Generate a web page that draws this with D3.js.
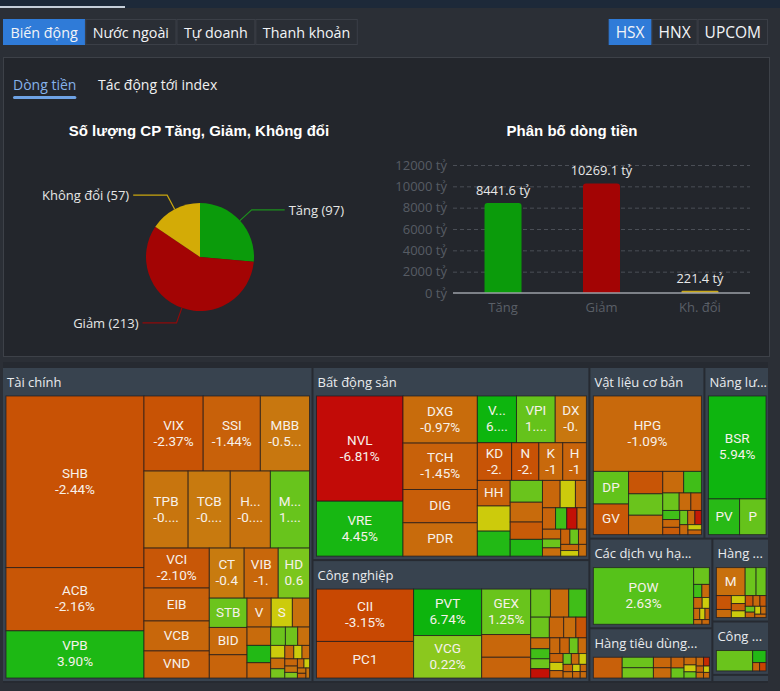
<!DOCTYPE html>
<html><head><meta charset="utf-8">
<script src="https://cdn.jsdelivr.net/npm/d3@7/dist/d3.min.js"></script>
<style>
html,body{margin:0;padding:0;background:#2b2f36;overflow:hidden;}
svg{display:block;}
</style></head><body>
<svg id="c" width="780" height="691"></svg>
<script>
// ---------------- DATA ----------------
const tabs = ["Biến động", "Nước ngoài", "Tự doanh", "Thanh khoản"];
const exchanges = ["HSX", "HNX", "UPCOM"];
const subTabs = ["Dòng tiền", "Tác động tới index"];

const pieTitle = "Số lượng CP Tăng, Giảm, Không đổi";
const pieCategories = ["Tăng", "Giảm", "Không đổi"];
const pieCounts = [97, 213, 57];

const barTitle = "Phân bố dòng tiền";
const barCategories = ["Tăng", "Giảm", "Kh. đổi"];
const barValues = [8441.6, 10269.1, 221.4];
const barTicks = [0, 2000, 4000, 6000, 8000, 10000, 12000];

const sectorNames = ["Tài chính", "Bất động sản", "Công nghiệp", "Vật liệu cơ bản", "Năng lượng",
  "Các dịch vụ hạ tầng", "Hàng tiêu dùng thiết yếu", "Hàng tiêu dùng không thiết yếu", "Công nghệ thông tin", "Viễn thông"];
const sectorValues = [9710, 5308, 3351, 1960, 1100, 1095, 656, 466, 300, 40];

const taiChinhTickers = ["SHB","ACB","VPB","VIX","SSI","MBB","TPB","TCB","HCM","MSB","VCI","EIB","VCB","VND","CTG","VIB","HDB","STB","BID","","VDS","SSB"];
const taiChinhValues = [23598,8694,6486,4425,4275,3675,3388,3234,3080,3003,2600,2145,1950,1760,1740,1700,1560,1102,1026,874,696,609,493,432,408,360,270,225,216,180,150,130,120,110,100,90,80,70,60,50,45,40,35];
const taiChinhChanges = [-2.44,-2.16,3.90,-2.37,-1.44,-0.55,-0.62,-0.45,-0.71,1.32,-2.10,-1.5,-1.2,-1.5,-0.42,-1.18,0.62,1.0,-1.0,-1.3,-1.0,0,-0.8,-1.0,3.5,-1.2,1.0,0.9,-0.8,0,-1.0,0.7,-1.1,0,-0.9,-1.2,-0.7,0.5,-1.0,0,-0.8,-1.3,-0.6];

const batDongSanTickers = ["NVL","VRE","DXG","TCH","DIG","PDR","VHM","VPI","DXS","KDH","NLG","KBC","HDC","HHV"];
const batDongSanValues = [9100,4750,3500,3450,2475,2475,1830,1810,1457,1292,1026,900,890,840,825,820,704,640,560,540,484,418,300,280,240,220,200,180,160,150,140,130,120,110,100,90];
const batDongSanChanges = [-6.81,4.45,-0.97,-1.45,-1.6,-1.0,6.3,1.6,-0.55,-2.3,-2.4,-1.1,-1.3,-1.5,0,3.5,1.2,-1.0,-1.8,3.5,-1.2,0,-0.9,-1.3,3.0,-6.5,-1.0,-1.2,1.0,-0.9,-1.4,1.1,-1.0,-1.2,0,-0.9];

const congNghiepTickers = ["CII","PC1","PVT","VCG","GEX"];
const congNghiepValues = [5141,3589,3196,2924,2254,1127,1029,560,520,500,390,300,255,220,210,195,190,180,160,150,140,130,120,110,100,90,85,80,70,60,55,50,45,40];
const congNghiepChanges = [-3.15,-2.8,6.74,0.22,1.25,-1.2,-1.3,1.2,-1.0,3.0,1.0,-1.2,-0.9,-2.2,-1.0,3.0,1.0,-6.5,-1.1,-1.3,1.0,-1.0,-1.4,0,-1.2,1.0,-1.0,0,-1.3,-0.9,0,-1.1,-1.2,-1.0];

const vatLieuTickers = ["HPG","DPM","GVR"];
const vatLieuValues = [7950,1120,1050,748,714,646,440,374,280,200,180,150,130,120,110,100,90,80,70,60];
const vatLieuChanges = [-1.09,1.8,-2.0,-2.2,1.2,-0.9,-1.0,3.0,1.0,-1.0,-1.5,3.0,-1.2,-1.8,1.0,-1.0,-6.0,-1.1,0,-1.3];

const nangLuongTickers = ["BSR","PVS","PVD"];
const nangLuongValues = [6161,1155,980];
const nangLuongChanges = [5.94,3.4,1.6];

const dichVuTickers = ["POW"];
const dichVuValues = [5800,270,110,100,95,80,70,60,50,40,35];
const dichVuChanges = [2.63,1.2,3.0,-1.0,-1.2,0,-1.0,0,-1.3,-0.9,-1.1];

const tieuDungTickers = [];
const tieuDungValues = [644,352,345,200,195,150,140,100,90,80,70,55,50,45,40,35];
const tieuDungChanges = [-1.5,1.0,0.8,-1.2,-1.0,-1.3,1.2,-1.0,0,1.0,-1.1,-5.0,-1.2,-0.9,0,-1.0];

const hangTickers = ["MWG"];
const hangValues = [870,330,300,225,130,120,110,100,90,80,70,60,55,50,45,40];
const hangChanges = [-0.8,1.0,1.2,-2.2,-1.0,0,-1.5,0,-2.0,-1.0,-1.8,1.0,-1.2,0,-0.9,-1.1];

const congNgheTickers = ["FPT"];
const congNgheValues = [836,182,65,60];
const congNgheChanges = [1.2,3.5,-1.2,-3.5];

const vienThongTickers = ["VGI"];
const vienThongValues = [30,10];
const vienThongChanges = [-0.8,0.5];

// ---------------- SETUP ----------------
const FONT = "'Open Sans', 'Noto Sans', sans-serif";
const CELLFONT = "Roboto, 'Open Sans', sans-serif";
const BOLD = "'Liberation Sans', Arial, sans-serif";
const ctx = document.createElement("canvas").getContext("2d");
function measure(t, size, fam, weight) { ctx.font = (weight || "normal") + " " + size + "px " + (fam || FONT); return ctx.measureText(t).width; }

const svg = d3.select("#c");
svg.append("rect").attr("width", 780).attr("height", 691).attr("fill", "#2b2f36");
svg.append("rect").attr("width", 780).attr("height", 8).attr("fill", "#1d2939");
svg.append("rect").attr("x", 0).attr("y", 6).attr("width", 125).attr("height", 2).attr("fill", "#c6cfda");

function buttonGroup(labels, x0, y0, h, fs, pad) {
  let x = x0;
  labels.forEach((t, i) => {
    const w = measure(t, fs) + pad;
    svg.append("rect").attr("x", x + 0.5).attr("y", y0 + 0.5).attr("width", w - 1).attr("height", h - 1)
      .attr("fill", i === 0 ? "#2f7bd8" : "#2a2e35").attr("stroke", i === 0 ? "#2f7bd8" : "#3b3f47");
    svg.append("text").attr("x", x + w / 2).attr("y", y0 + h / 2).attr("text-anchor", "middle")
      .attr("dominant-baseline", "central").attr("fill", "#f2f4f7").attr("font-family", FONT)
      .attr("font-size", fs).text(t);
    x += w;
  });
}
buttonGroup(tabs, 3, 19, 26, 14.3, 15);
const exW = exchanges.reduce((a, t) => a + measure(t, 15.5) + 14, 0);
buttonGroup(exchanges, 768 - exW, 19, 26, 15.5, 14);

svg.append("rect").attr("x", 3.5).attr("y", 57.5).attr("width", 766).attr("height", 299)
  .attr("fill", "#23262c").attr("stroke", "#3d4148");
svg.append("text").attr("x", 13).attr("y", 84).attr("dominant-baseline", "central")
  .attr("fill", "#86b2ea").attr("font-family", FONT).attr("font-size", 14).text(subTabs[0]);
svg.append("rect").attr("x", 13).attr("y", 96).attr("width", measure(subTabs[0], 14)).attr("height", 3)
  .attr("rx", 1.5).attr("fill", "#6ea2e4");
svg.append("text").attr("x", 98).attr("y", 84).attr("dominant-baseline", "central")
  .attr("fill", "#f0f0f0").attr("font-family", FONT).attr("font-size", 14).text(subTabs[1]);

// ---------------- PIE ----------------
svg.append("text").attr("x", 199).attr("y", 130).attr("text-anchor", "middle").attr("dominant-baseline", "central")
  .attr("fill", "#ffffff").attr("font-family", BOLD).attr("font-weight", "bold").attr("font-size", 15).text(pieTitle);
const pieColors = ["#0b9b0b", "#a30404", "#d3ab06"];
const lineColors = ["#1d8f1d", "#8f0a0a", "#c9a50e"];
const R = 54, cx = 200, cy = 257;
const pieData = d3.pie().sort(null).value(d => d)(pieCounts);
const arc = d3.arc().innerRadius(0).outerRadius(R);
const gPie = svg.append("g").attr("transform", `translate(${cx},${cy})`);
gPie.selectAll("path").data(pieData).join("path").attr("d", arc).attr("fill", (d, i) => pieColors[i]);
const edgeArc = d3.arc().innerRadius(R).outerRadius(R);
const elbowArc = d3.arc().innerRadius(70).outerRadius(70);
pieData.forEach((d, i) => {
  const p1 = edgeArc.centroid(d), p2 = elbowArc.centroid(d);
  const mid = (d.startAngle + d.endAngle) / 2;
  const right = mid < Math.PI;
  const p3 = [p2[0] + (right ? 33 : -34), p2[1]];
  gPie.append("polyline").attr("points", [p1, p2, p3].map(p => p.join(",")).join(" "))
    .attr("fill", "none").attr("stroke", lineColors[i]).attr("stroke-width", 1.2);
  gPie.append("text").attr("x", p3[0] + (right ? 4 : -4)).attr("y", p3[1])
    .attr("text-anchor", right ? "start" : "end").attr("dominant-baseline", "central")
    .attr("fill", "#e6e6e6").attr("font-family", FONT).attr("font-size", 13)
    .text(`${pieCategories[i]} (${pieCounts[i]})`);
});

// ---------------- BAR ----------------
svg.append("text").attr("x", 572).attr("y", 130).attr("text-anchor", "middle").attr("dominant-baseline", "central")
  .attr("fill", "#ffffff").attr("font-family", BOLD).attr("font-weight", "bold").attr("font-size", 15).text(barTitle);
const y = d3.scaleLinear().domain([0, 12000]).range([293, 165]);
const x = d3.scaleBand().domain(barCategories).range([453, 750]).paddingInner(0.624).paddingOuter(0.32);
const gAxis = svg.append("g").attr("transform", "translate(453,0)")
  .call(d3.axisLeft(y).tickValues(barTicks).tickFormat(d => d + " tỷ").tickSize(-297).tickPadding(6));
gAxis.select(".domain").remove();
gAxis.selectAll(".tick line").attr("stroke", "#4a4e56").attr("stroke-dasharray", "4,3")
  .filter(d => d === 0).attr("stroke", "none");
gAxis.selectAll(".tick text").attr("fill", "#575c64").attr("font-family", FONT).attr("font-size", 13);
const barColors = ["#0b9b0b", "#a30404", "#c9a818"];
svg.selectAll(".bar").data(barValues).join("path").attr("class", "bar")
  .attr("fill", (d, i) => barColors[i])
  .attr("d", (d, i) => {
    const x0 = x(barCategories[i]), w = x.bandwidth(), y0 = y(d), y1 = y(0), r = Math.min(3, (y1 - y0) / 2);
    return `M${x0},${y1}V${y0 + r}Q${x0},${y0} ${x0 + r},${y0}H${x0 + w - r}Q${x0 + w},${y0} ${x0 + w},${y0 + r}V${y1}Z`;
  });
svg.append("line").attr("x1", 453).attr("x2", 750).attr("y1", y(0)).attr("y2", y(0))
  .attr("stroke", "#9ca0a7").attr("stroke-width", 1.5);
svg.selectAll(".bl").data(barValues).join("text").attr("class", "bl")
  .attr("x", (d, i) => x(barCategories[i]) + x.bandwidth() / 2).attr("y", d => y(d) - 13)
  .attr("text-anchor", "middle").attr("dominant-baseline", "central").attr("fill", "#e8e8e8")
  .attr("font-family", FONT).attr("font-size", 12.8).text(d => d.toFixed(1) + " tỷ");
svg.selectAll(".xl").data(barCategories).join("text").attr("class", "xl")
  .attr("x", d => x(d) + x.bandwidth() / 2).attr("y", 307).attr("text-anchor", "middle")
  .attr("dominant-baseline", "central").attr("fill", "#5a5f67").attr("font-family", FONT)
  .attr("font-size", 13).text(d => d);

// ---------------- TREEMAP ----------------
const stockSets = [
  [taiChinhTickers, taiChinhValues, taiChinhChanges],
  [batDongSanTickers, batDongSanValues, batDongSanChanges],
  [congNghiepTickers, congNghiepValues, congNghiepChanges],
  [vatLieuTickers, vatLieuValues, vatLieuChanges],
  [nangLuongTickers, nangLuongValues, nangLuongChanges],
  [dichVuTickers, dichVuValues, dichVuChanges],
  [tieuDungTickers, tieuDungValues, tieuDungChanges],
  [hangTickers, hangValues, hangChanges],
  [congNgheTickers, congNgheValues, congNgheChanges],
  [vienThongTickers, vienThongValues, vienThongChanges]
];
const stops = [[-7, "#c20808"], [-4.5, "#c83400"], [-3, "#c84a02"], [-2.2, "#c85506"], [-1.5, "#c8600a"],
  [-1, "#c86b0c"], [-0.5, "#c8780f"], [-0.05, "#c88a10"], [0, "#cccb0c"], [0.15, "#8ec81e"],
  [1, "#6cc41c"], [2.6, "#58c21a"], [3.5, "#22b915"], [5, "#10b611"], [7, "#0cb40c"]];
const color = d3.scaleLinear().domain(stops.map(s => s[0])).range(stops.map(s => s[1])).clamp(true);

const TX = 3, TY = 368, TW = 765, TH = 313;
svg.append("rect").attr("x", TX).attr("y", TY - 6).attr("width", TW).attr("height", TH + 8).attr("fill", "#262a31");
const sectors = sectorNames.map((n, i) => ({ name: n, value: sectorValues[i], set: stockSets[i] }));
const topRoot = d3.hierarchy({ children: sectors }).sum(d => d.value || 0).sort((a, b) => b.value - a.value);
d3.treemap().size([TW, TH]).paddingInner(2).tile(d3.treemapSquarify)(topRoot);

const LFS = 13.5, HFS = 13;
function fitText(t, avail, fs) {
  if (!t) return "";
  if (measure(t, fs, CELLFONT) <= avail) return t;
  const useEll = avail >= 24;
  const room = useEll ? avail - measure("...", fs, CELLFONT) : avail;
  let s = "";
  for (const ch of t) { if (measure(s + ch, fs, CELLFONT) <= room) s += ch; else break; }
  if (!s) return "";
  return useEll ? s + "..." : s;
}
// header truncation: character-estimate based (ascii vs wide chars)
function fitHeader(t, w) {
  if (measure(t, HFS) <= w - 6) return t;
  const content = w - 16.5, asc = 6.4, wide = 13;
  let width = 0, i = 0;
  for (; i < t.length && width < content; i++) width += t.charCodeAt(i) <= 127 ? asc : wide;
  return t.substr(0, i) + "...";
}
const PL = 3, PR = 2, PT = 28, PB = 3;

topRoot.leaves().forEach(s => {
  const sx = TX + s.x0, sy = TY + s.y0, sw = s.x1 - s.x0, sh = s.y1 - s.y0;
  if (sw <= 0 || sh <= 0) return;
  const g = svg.append("g").attr("transform", `translate(${sx},${sy})`);
  g.append("rect").attr("width", sw).attr("height", sh).attr("fill", "#38434f");
  if (sh >= 24) {
    g.append("text").attr("x", 4).attr("y", 13.5).attr("dominant-baseline", "central")
      .attr("fill", "#e9ebee").attr("font-family", FONT).attr("font-size", HFS)
      .text(fitHeader(s.data.name, sw));
  }
  const [tk, vals, chg] = s.data.set;
  const iw = sw - PL - PR, ih = sh - PT - PB;
  if (iw <= 0 || ih <= 0) return;
  const leaves = vals.map((v, i) => ({ t: tk[i] || "", v: v, c: chg[i] }));
  const root = d3.hierarchy({ children: leaves }).sum(d => d.v || 0).sort((a, b) => b.value - a.value);
  d3.treemap().size([iw, ih]).tile(d3.treemapSquarify)(root);
  const gi = g.append("g").attr("transform", `translate(${PL},${PT})`);
  root.leaves().forEach(n => {
    const w = n.x1 - n.x0, h = n.y1 - n.y0;
    gi.append("rect").attr("x", n.x0).attr("y", n.y0).attr("width", w).attr("height", h)
      .attr("fill", color(n.data.c)).attr("stroke", "rgba(28,26,30,0.7)").attr("stroke-width", 1);
    if (!n.data.t || h < 24) return;
    const avail = w - 12;
    const name = fitText(n.data.t, avail, LFS);
    if (!name) return;
    const cxm = n.x0 + w / 2, cym = n.y0 + h / 2;
    const txt = gi.append("text").attr("text-anchor", "middle").attr("fill", "#f7f1ea")
      .attr("font-family", CELLFONT).attr("font-size", LFS).attr("dominant-baseline", "central");
    if (h >= 37) {
      const p = fitText(n.data.c.toFixed(2) + "%", avail, LFS);
      txt.append("tspan").attr("x", cxm).attr("y", cym - 9).text(name);
      txt.append("tspan").attr("x", cxm).attr("y", cym + 7).text(p);
    } else {
      txt.attr("x", cxm).attr("y", cym - 1).text(name);
    }
  });
});
</script>
</body></html>
